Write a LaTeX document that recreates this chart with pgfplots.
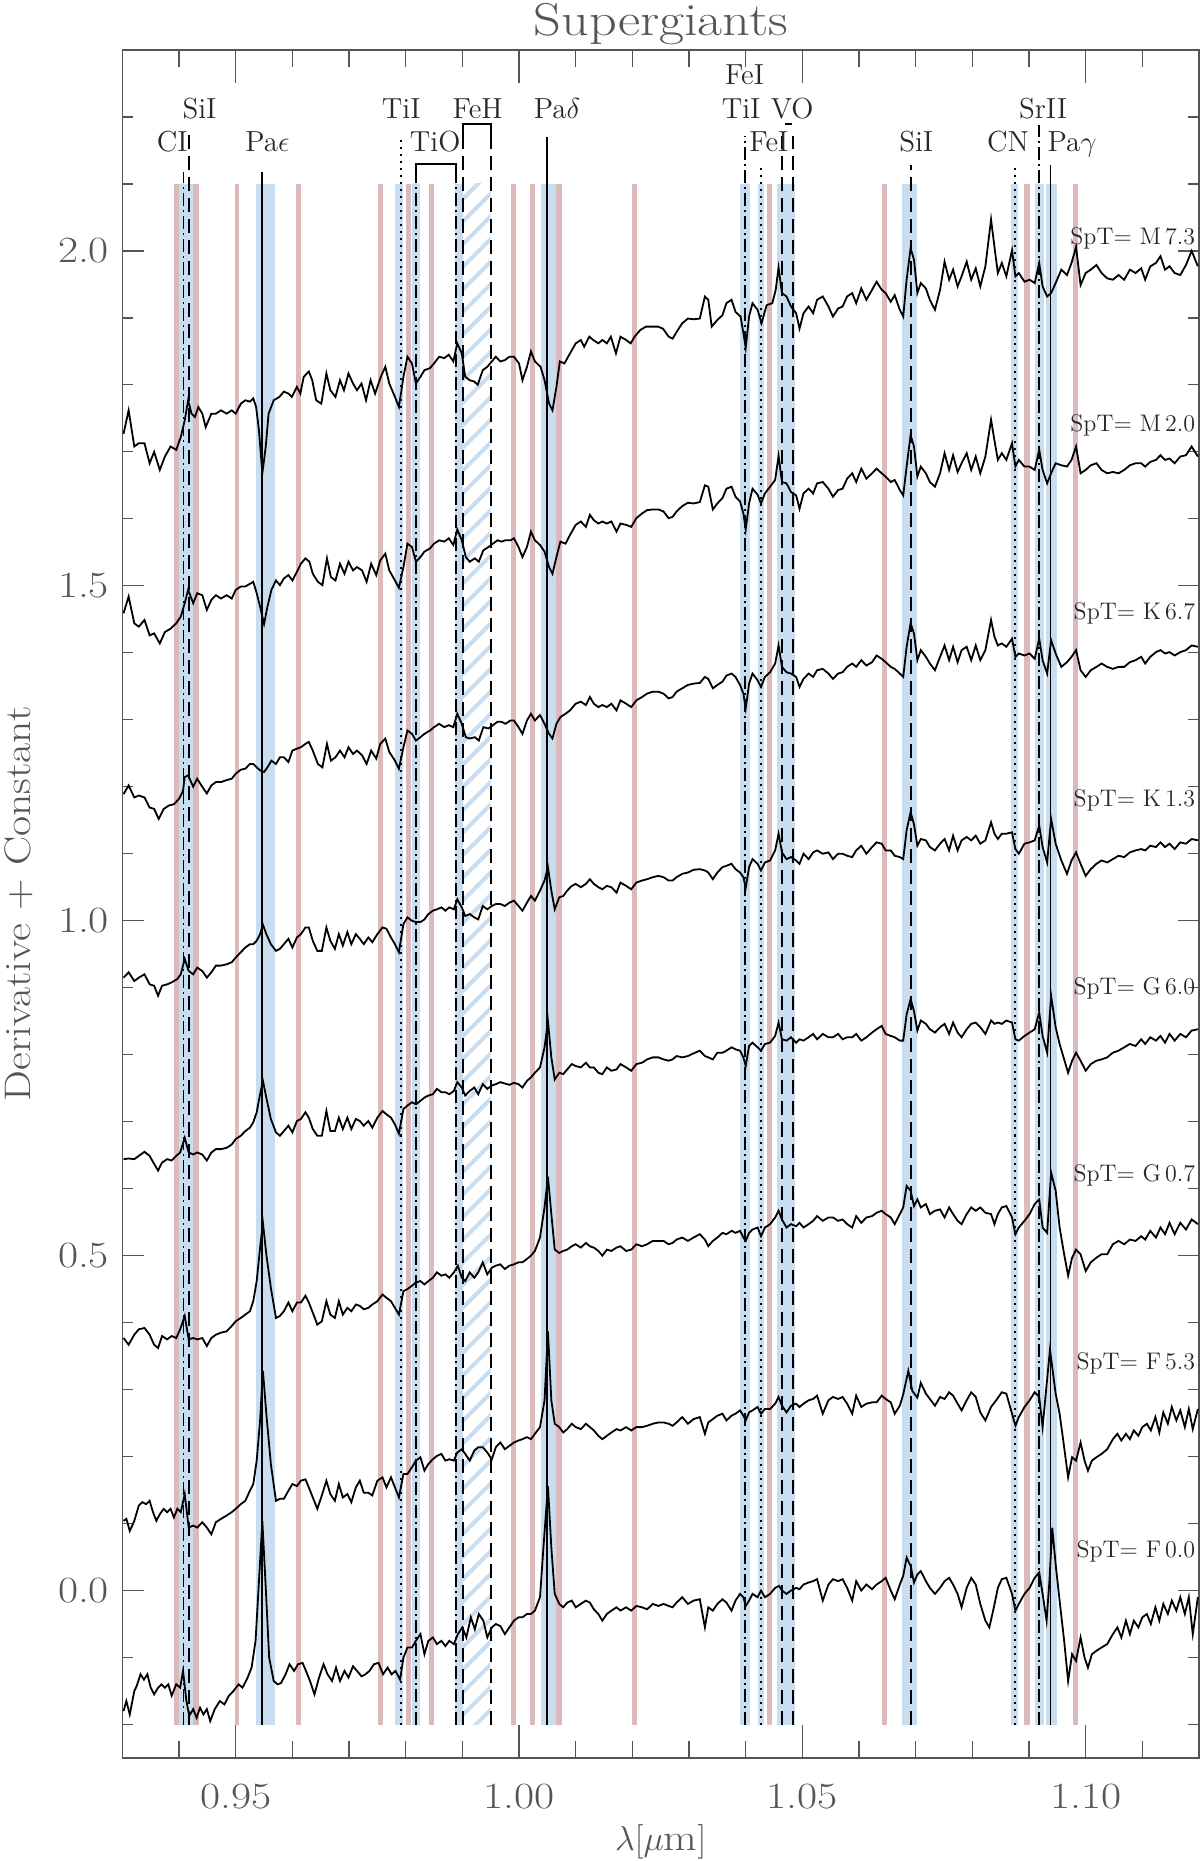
\documentclass[border=0pt]{standalone}
\usepackage{fontspec}
\usepackage{pgfplots}
\pgfplotsset{compat=1.18}
\usetikzlibrary{patterns.meta}
\newfontfamily\wideLM{lmroman17-regular.otf}[FakeStretch=1.18]
\definecolor{bred}{RGB}{220,186,187}
\definecolor{bblue}{RGB}{200,221,240}
\definecolor{axgray}{RGB}{85,85,85}
\definecolor{txt}{RGB}{40,40,40}
\newcommand{\rband}[2]{\addplot[fill=bred, draw=none] coordinates {(#1,-0.2) (#2,-0.2) (#2,2.1) (#1,2.1)} -- cycle;}
\newcommand{\bband}[2]{\addplot[fill=bblue, draw=none] coordinates {(#1,-0.2) (#2,-0.2) (#2,2.1) (#1,2.1)} -- cycle;}
\tikzset{
  lsolid/.style={black, line width=0.9pt},
  ldash/.style={black, line width=0.9pt, dash pattern=on 7pt off 3.5pt},
  ldashdot/.style={black, line width=0.9pt, dash pattern=on 6.5pt off 2pt on 1pt off 2pt},
  ldot/.style={black, line width=0.9pt, dash pattern=on 1pt off 2.5pt},
  lab/.style={anchor=base, text=txt, font=\fontsize{14.5}{16}\selectfont, inner sep=0pt},
  spt/.style={anchor=base east, text=txt, font=\fontsize{12}{14}\selectfont, inner sep=0pt},
}
\begin{document}
\begin{tikzpicture}
\path[use as bounding box] (-61.2pt,-51.5pt) rectangle (538.8pt,879pt);
\begin{axis}[
  at={(0,0)}, anchor=south west,
  width=538.3pt, height=854pt, scale only axis,
  xmin=0.93, xmax=1.12, ymin=-0.25, ymax=2.3,
  axis line style={axgray, line width=0.6pt},
  tick style={axgray, line width=0.6pt},
  tick align=inside,
  xtick={0.95,1.00,1.05,1.10},
  xticklabels={0.95,1.00,1.05,1.10},
  minor xtick={0.94,0.96,0.97,0.98,0.99,1.01,1.02,1.03,1.04,1.06,1.07,1.08,1.09,1.11},
  ytick={0,0.5,1.0,1.5,2.0},
  yticklabels={0.0,0.5,1.0,1.5,2.0},
  minor ytick={-0.2,-0.1,0.1,0.2,0.3,0.4,0.6,0.7,0.8,0.9,1.1,1.2,1.3,1.4,1.6,1.7,1.8,1.9,2.1,2.2},
  xtick style={/pgfplots/major tick length=16.7pt, /pgfplots/minor tick length=8.4pt},
  ytick style={/pgfplots/major tick length=10.7pt, /pgfplots/minor tick length=5.4pt},
  xticklabel style={font=\wideLM\fontsize{18.5}{20}\selectfont, text=axgray, anchor=base, yshift=-25pt, inner sep=0pt},
  yticklabel style={font=\wideLM\fontsize{18.5}{20}\selectfont, text=axgray, anchor=east, xshift=-6.5pt, inner sep=0pt},
]
% red bands
\rband{0.9391}{0.9400}
\rband{0.9425}{0.9435}
\rband{0.9499}{0.9505}
\rband{0.9606}{0.9615}
\rband{0.9751}{0.9760}
\rband{0.9800}{0.9809}
\rband{0.9841}{0.9850}
\rband{0.9985}{0.9994}
\rband{1.0020}{1.0029}
\rband{1.0066}{1.0075}
\rband{1.0200}{1.0209}
\rband{1.0438}{1.0447}
\rband{1.0640}{1.0649}
\rband{1.0892}{1.0902}
\rband{1.0978}{1.0987}
% blue bands
\bband{0.9400}{0.9425}
\bband{0.9535}{0.9570}
\bband{0.9781}{0.9796}
\bband{0.9811}{0.9826}
\bband{0.9887}{0.9901}
\bband{1.0038}{1.0066}
\bband{1.0390}{1.0407}
\bband{1.0422}{1.0433}
\bband{1.0456}{1.0487}
\bband{1.0676}{1.0702}
\bband{1.0869}{1.0881}
\bband{1.0910}{1.0927}
\bband{1.0930}{1.0949}
% hatched FeH band
\addplot[draw=none, pattern={Lines[angle=45,distance=8pt,line width=2pt]}, pattern color=bblue] coordinates {(0.9901,-0.2) (0.9950,-0.2) (0.9950,2.1) (0.9901,2.1)} -- cycle;
% line markers
\addplot[ldashdot] coordinates {(0.9408,-0.2) (0.9408,2.118)};
\addplot[ldash] coordinates {(0.9417,-0.2) (0.9417,2.175)};
\addplot[lsolid] coordinates {(0.9547,-0.2) (0.9547,2.118)};
\addplot[ldot] coordinates {(0.9791,-0.2) (0.9791,2.168)};
\addplot[ldashdot] coordinates {(0.9818,-0.2) (0.9818,2.110)};
\addplot[ldashdot] coordinates {(0.9889,-0.2) (0.9889,2.110)};
\addplot[lsolid] coordinates {(0.9818,2.110) (0.9818,2.130) (0.9889,2.130) (0.9889,2.110)};
\addplot[ldash] coordinates {(0.9901,-0.2) (0.9901,2.170)};
\addplot[ldash] coordinates {(0.9950,-0.2) (0.9950,2.170)};
\addplot[lsolid] coordinates {(0.9901,2.170) (0.9901,2.189) (0.9950,2.189) (0.9950,2.170)};
\addplot[lsolid] coordinates {(1.0049,-0.2) (1.0049,2.170)};
\addplot[ldashdot] coordinates {(1.0399,-0.2) (1.0399,2.172)};
\addplot[ldot] coordinates {(1.0427,-0.2) (1.0427,2.128)};
\addplot[ldash] coordinates {(1.0464,-0.2) (1.0464,2.172)};
\addplot[ldash] coordinates {(1.0483,-0.2) (1.0483,2.172)};
\addplot[lsolid] coordinates {(1.0469,2.189) (1.0481,2.189)};
\addplot[ldash] coordinates {(1.0692,-0.2) (1.0692,2.128)};
\addplot[ldot] coordinates {(1.0875,-0.2) (1.0875,2.128)};
\addplot[ldashdot] coordinates {(1.0918,-0.2) (1.0918,2.188)};
\addplot[lsolid] coordinates {(1.0938,-0.2) (1.0938,2.128)};
% spectra
% M7.3
\addplot[black, line width=0.9pt] coordinates {(0.9302,1.727) (0.9311,1.762) (0.9321,1.708) (0.9329,1.713) (0.9339,1.713) (0.9348,1.683) (0.9356,1.700) (0.9366,1.673) (0.9375,1.693) (0.9385,1.708) (0.9395,1.703) (0.9403,1.722) (0.9410,1.747) (0.9416,1.777) (0.9422,1.757) (0.9428,1.752) (0.9434,1.767) (0.9441,1.757) (0.9447,1.737) (0.9457,1.757) (0.9465,1.757) (0.9474,1.762) (0.9484,1.757) (0.9493,1.762) (0.9500,1.757) (0.9509,1.772) (0.9517,1.777) (0.9525,1.775) (0.9531,1.780) (0.9536,1.767) (0.9541,1.732) (0.9547,1.668) (0.9553,1.708) (0.9558,1.757) (0.9567,1.777) (0.9577,1.782) (0.9585,1.790) (0.9593,1.787) (0.9599,1.782) (0.9608,1.797) (0.9614,1.787) (0.9620,1.812) (0.9629,1.820) (0.9635,1.807) (0.9642,1.777) (0.9651,1.772) (0.9660,1.817) (0.9667,1.792) (0.9676,1.782) (0.9684,1.807) (0.9691,1.792) (0.9699,1.817) (0.9707,1.802) (0.9714,1.792) (0.9722,1.802) (0.9730,1.777) (0.9738,1.807) (0.9746,1.787) (0.9756,1.812) (0.9764,1.827) (0.9771,1.802) (0.9781,1.782) (0.9788,1.767) (0.9796,1.812) (0.9803,1.842) (0.9811,1.832) (0.9818,1.802) (0.9826,1.812) (0.9833,1.822) (0.9843,1.825) (0.9850,1.832) (0.9859,1.842) (0.9868,1.840) (0.9876,1.845) (0.9884,1.835) (0.9891,1.862) (0.9899,1.847) (0.9905,1.812) (0.9913,1.807) (0.9921,1.805) (0.9927,1.800) (0.9936,1.822) (0.9944,1.827) (0.9952,1.835) (0.9959,1.842) (0.9967,1.835) (0.9975,1.837) (0.9983,1.842) (0.9991,1.842) (1.0000,1.832) (1.0006,1.807) (1.0014,1.827) (1.0021,1.850) (1.0028,1.835) (1.0038,1.827) (1.0045,1.807) (1.0053,1.772) (1.0059,1.762) (1.0066,1.797) (1.0072,1.835) (1.0080,1.832) (1.0090,1.847) (1.0100,1.862) (1.0109,1.867) (1.0115,1.857) (1.0124,1.872) (1.0131,1.867) (1.0140,1.862) (1.0147,1.867) (1.0155,1.862) (1.0162,1.872) (1.0171,1.847) (1.0179,1.872) (1.0189,1.867) (1.0197,1.862) (1.0204,1.872) (1.0214,1.882) (1.0224,1.887) (1.0234,1.887) (1.0245,1.887) (1.0254,1.884) (1.0264,1.872) (1.0271,1.869) (1.0278,1.879) (1.0288,1.892) (1.0298,1.899) (1.0308,1.898) (1.0319,1.899) (1.0328,1.932) (1.0334,1.927) (1.0340,1.887) (1.0350,1.897) (1.0359,1.904) (1.0366,1.922) (1.0375,1.927) (1.0382,1.909) (1.0391,1.902) (1.0397,1.872) (1.0400,1.855) (1.0406,1.902) (1.0412,1.922) (1.0421,1.912) (1.0428,1.892) (1.0437,1.919) (1.0447,1.922) (1.0453,1.942) (1.0458,1.975) (1.0464,1.937) (1.0472,1.932) (1.0480,1.917) (1.0489,1.907) (1.0495,1.884) (1.0502,1.907) (1.0511,1.917) (1.0519,1.907) (1.0526,1.927) (1.0536,1.932) (1.0546,1.917) (1.0554,1.902) (1.0563,1.914) (1.0571,1.917) (1.0579,1.932) (1.0588,1.937) (1.0595,1.922) (1.0604,1.944) (1.0613,1.927) (1.0623,1.942) (1.0631,1.954) (1.0640,1.942) (1.0647,1.937) (1.0656,1.924) (1.0663,1.934) (1.0672,1.912) (1.0678,1.902) (1.0684,1.957) (1.0691,2.004) (1.0697,1.987) (1.0703,1.937) (1.0709,1.952) (1.0718,1.944) (1.0725,1.927) (1.0734,1.912) (1.0743,1.942) (1.0751,1.984) (1.0759,1.957) (1.0766,1.972) (1.0774,1.947) (1.0781,1.962) (1.0790,1.984) (1.0798,1.957) (1.0806,1.974) (1.0814,1.947) (1.0823,1.977) (1.0833,2.047) (1.0839,2.006) (1.0845,1.967) (1.0852,1.982) (1.0860,1.962) (1.0870,2.001) (1.0876,1.962) (1.0882,1.967) (1.0892,1.954) (1.0901,1.957) (1.0910,1.952) (1.0918,1.982) (1.0924,1.947) (1.0932,1.932) (1.0939,1.937) (1.0947,1.952) (1.0957,1.972) (1.0967,1.964) (1.0975,1.982) (1.0983,2.006) (1.0991,1.949) (1.1000,1.967) (1.1009,1.972) (1.1019,1.979) (1.1028,1.967) (1.1038,1.959) (1.1048,1.957) (1.1058,1.964) (1.1068,1.957) (1.1078,1.972) (1.1088,1.967) (1.1098,1.974) (1.1105,1.957) (1.1114,1.977) (1.1124,1.982) (1.1132,1.992) (1.1140,1.972) (1.1148,1.977) (1.1157,1.967) (1.1167,1.964) (1.1177,1.979) (1.1187,2.000) (1.1198,1.977)};
% M2.0
\addplot[black, line width=0.9pt] coordinates {(0.9302,1.459) (0.9311,1.484) (0.9321,1.444) (0.9329,1.439) (0.9339,1.449) (0.9348,1.426) (0.9356,1.429) (0.9366,1.414) (0.9375,1.431) (0.9385,1.436) (0.9395,1.444) (0.9403,1.454) (0.9410,1.474) (0.9416,1.494) (0.9425,1.474) (0.9432,1.489) (0.9441,1.486) (0.9449,1.464) (0.9457,1.479) (0.9465,1.486) (0.9474,1.481) (0.9484,1.486) (0.9493,1.481) (0.9500,1.494) (0.9509,1.499) (0.9517,1.499) (0.9525,1.503) (0.9531,1.506) (0.9537,1.489) (0.9543,1.469) (0.9550,1.443) (0.9556,1.469) (0.9563,1.494) (0.9571,1.508) (0.9578,1.501) (0.9585,1.511) (0.9593,1.516) (0.9600,1.508) (0.9608,1.521) (0.9615,1.533) (0.9623,1.541) (0.9630,1.536) (0.9636,1.518) (0.9645,1.506) (0.9653,1.501) (0.9661,1.541) (0.9668,1.513) (0.9676,1.508) (0.9684,1.533) (0.9692,1.518) (0.9699,1.536) (0.9707,1.523) (0.9714,1.528) (0.9723,1.523) (0.9731,1.506) (0.9739,1.533) (0.9748,1.516) (0.9755,1.538) (0.9764,1.548) (0.9771,1.523) (0.9781,1.508) (0.9788,1.497) (0.9796,1.528) (0.9803,1.563) (0.9811,1.558) (0.9818,1.536) (0.9826,1.543) (0.9833,1.551) (0.9843,1.556) (0.9850,1.563) (0.9859,1.568) (0.9868,1.566) (0.9876,1.571) (0.9884,1.561) (0.9891,1.584) (0.9899,1.568) (0.9906,1.543) (0.9913,1.536) (0.9922,1.541) (0.9929,1.536) (0.9937,1.553) (0.9946,1.558) (0.9954,1.563) (0.9962,1.568) (0.9969,1.566) (0.9976,1.568) (0.9985,1.568) (0.9991,1.571) (0.9999,1.558) (1.0006,1.543) (1.0014,1.558) (1.0021,1.581) (1.0028,1.568) (1.0037,1.561) (1.0045,1.551) (1.0053,1.528) (1.0059,1.518) (1.0066,1.543) (1.0073,1.566) (1.0082,1.563) (1.0090,1.576) (1.0100,1.591) (1.0109,1.596) (1.0118,1.588) (1.0125,1.606) (1.0132,1.598) (1.0140,1.593) (1.0147,1.596) (1.0155,1.593) (1.0163,1.596) (1.0172,1.581) (1.0179,1.593) (1.0189,1.591) (1.0198,1.588) (1.0207,1.601) (1.0217,1.608) (1.0226,1.613) (1.0236,1.614) (1.0246,1.614) (1.0255,1.611) (1.0264,1.601) (1.0271,1.603) (1.0278,1.611) (1.0288,1.619) (1.0298,1.624) (1.0308,1.623) (1.0319,1.625) (1.0328,1.650) (1.0334,1.648) (1.0342,1.614) (1.0350,1.623) (1.0359,1.631) (1.0366,1.645) (1.0375,1.648) (1.0382,1.633) (1.0390,1.626) (1.0396,1.608) (1.0400,1.584) (1.0406,1.623) (1.0412,1.645) (1.0421,1.636) (1.0427,1.623) (1.0434,1.638) (1.0443,1.648) (1.0452,1.658) (1.0458,1.694) (1.0464,1.655) (1.0472,1.653) (1.0480,1.640) (1.0489,1.635) (1.0495,1.615) (1.0502,1.638) (1.0511,1.645) (1.0519,1.638) (1.0526,1.653) (1.0536,1.655) (1.0546,1.645) (1.0554,1.633) (1.0563,1.643) (1.0571,1.645) (1.0579,1.660) (1.0588,1.668) (1.0595,1.655) (1.0604,1.675) (1.0613,1.660) (1.0623,1.668) (1.0631,1.675) (1.0640,1.668) (1.0647,1.663) (1.0656,1.655) (1.0663,1.658) (1.0672,1.643) (1.0678,1.635) (1.0684,1.678) (1.0691,1.725) (1.0697,1.708) (1.0703,1.663) (1.0709,1.678) (1.0718,1.668) (1.0725,1.655) (1.0734,1.648) (1.0743,1.668) (1.0751,1.698) (1.0759,1.673) (1.0766,1.695) (1.0774,1.670) (1.0781,1.683) (1.0790,1.698) (1.0798,1.673) (1.0806,1.693) (1.0814,1.668) (1.0823,1.693) (1.0833,1.748) (1.0839,1.717) (1.0845,1.688) (1.0852,1.698) (1.0860,1.688) (1.0870,1.713) (1.0876,1.678) (1.0882,1.688) (1.0892,1.678) (1.0901,1.678) (1.0910,1.673) (1.0918,1.703) (1.0924,1.673) (1.0932,1.653) (1.0939,1.668) (1.0947,1.683) (1.0957,1.680) (1.0967,1.678) (1.0975,1.688) (1.0983,1.708) (1.0991,1.668) (1.1000,1.673) (1.1009,1.680) (1.1019,1.683) (1.1028,1.673) (1.1038,1.668) (1.1048,1.670) (1.1058,1.668) (1.1068,1.673) (1.1078,1.680) (1.1088,1.683) (1.1098,1.683) (1.1105,1.678) (1.1114,1.685) (1.1124,1.688) (1.1132,1.695) (1.1140,1.688) (1.1148,1.690) (1.1157,1.683) (1.1167,1.693) (1.1177,1.695) (1.1187,1.708) (1.1198,1.693)};
% K6.7
\addplot[black, line width=0.9pt] coordinates {(0.9302,1.189) (0.9311,1.202) (0.9321,1.184) (0.9329,1.187) (0.9339,1.184) (0.9348,1.169) (0.9356,1.167) (0.9364,1.152) (0.9373,1.167) (0.9382,1.172) (0.9391,1.174) (0.9400,1.182) (0.9407,1.194) (0.9410,1.2145) (0.9416,1.217) (0.9425,1.200) (0.9432,1.212) (0.9441,1.200) (0.9449,1.190) (0.9457,1.202) (0.9465,1.207) (0.9474,1.207) (0.9484,1.210) (0.9493,1.212) (0.9500,1.2195) (0.9509,1.2255) (0.9517,1.227) (0.9525,1.234) (0.9531,1.234) (0.9537,1.229) (0.9543,1.2245) (0.9550,1.222) (0.9556,1.229) (0.9563,1.239) (0.9571,1.234) (0.9578,1.244) (0.9585,1.244) (0.9593,1.237) (0.9600,1.254) (0.9608,1.257) (0.9615,1.259) (0.9623,1.264) (0.9629,1.267) (0.9636,1.254) (0.9645,1.234) (0.9653,1.229) (0.9661,1.264) (0.9668,1.239) (0.9676,1.244) (0.9684,1.254) (0.9692,1.244) (0.9699,1.259) (0.9707,1.249) (0.9714,1.254) (0.9723,1.247) (0.9731,1.234) (0.9739,1.254) (0.9748,1.242) (0.9755,1.264) (0.9764,1.272) (0.9771,1.252) (0.9781,1.239) (0.9788,1.227) (0.9796,1.259) (0.9803,1.284) (0.9811,1.279) (0.9818,1.269) (0.9826,1.274) (0.9833,1.279) (0.9843,1.284) (0.9850,1.289) (0.9859,1.294) (0.9868,1.289) (0.9876,1.292) (0.9884,1.289) (0.9891,1.309) (0.9899,1.294) (0.9906,1.274) (0.9913,1.272) (0.9922,1.274) (0.9929,1.269) (0.9937,1.289) (0.9946,1.287) (0.9954,1.292) (0.9962,1.297) (0.9969,1.297) (0.9976,1.294) (0.9985,1.299) (0.9991,1.299) (0.9999,1.289) (1.0006,1.279) (1.0014,1.299) (1.0021,1.309) (1.0028,1.299) (1.0037,1.307) (1.0045,1.294) (1.0053,1.279) (1.0059,1.272) (1.0066,1.294) (1.0073,1.304) (1.0082,1.309) (1.0090,1.314) (1.0100,1.324) (1.0109,1.327) (1.0118,1.322) (1.0125,1.334) (1.0132,1.324) (1.0140,1.319) (1.0147,1.322) (1.0155,1.319) (1.0163,1.324) (1.0172,1.314) (1.0179,1.329) (1.0189,1.324) (1.0198,1.319) (1.0207,1.329) (1.0217,1.334) (1.0226,1.339) (1.0236,1.342) (1.0246,1.342) (1.0255,1.339) (1.0264,1.332) (1.0271,1.334) (1.0278,1.342) (1.0288,1.347) (1.0298,1.352) (1.0308,1.354) (1.0319,1.355) (1.0328,1.364) (1.0334,1.361) (1.0342,1.347) (1.0350,1.352) (1.0359,1.357) (1.0366,1.366) (1.0375,1.369) (1.0382,1.364) (1.0390,1.352) (1.0396,1.339) (1.0400,1.317) (1.0406,1.354) (1.0412,1.369) (1.0421,1.359) (1.0427,1.349) (1.0434,1.364) (1.0443,1.371) (1.0452,1.384) (1.0458,1.411) (1.0464,1.379) (1.0472,1.371) (1.0480,1.369) (1.0489,1.364) (1.0495,1.349) (1.0502,1.361) (1.0511,1.369) (1.0519,1.364) (1.0526,1.374) (1.0536,1.376) (1.0546,1.369) (1.0554,1.361) (1.0563,1.369) (1.0571,1.371) (1.0579,1.379) (1.0588,1.384) (1.0595,1.379) (1.0604,1.389) (1.0613,1.381) (1.0623,1.386) (1.0631,1.396) (1.0640,1.391) (1.0647,1.386) (1.0656,1.379) (1.0663,1.376) (1.0672,1.369) (1.0678,1.364) (1.0684,1.409) (1.0691,1.444) (1.0697,1.429) (1.0703,1.389) (1.0709,1.404) (1.0718,1.394) (1.0725,1.384) (1.0734,1.374) (1.0743,1.394) (1.0751,1.411) (1.0759,1.389) (1.0766,1.409) (1.0774,1.386) (1.0781,1.404) (1.0790,1.409) (1.0798,1.389) (1.0806,1.411) (1.0814,1.389) (1.0823,1.404) (1.0833,1.449) (1.0839,1.424) (1.0845,1.411) (1.0852,1.414) (1.0860,1.409) (1.0870,1.421) (1.0876,1.394) (1.0882,1.399) (1.0892,1.396) (1.0901,1.399) (1.0910,1.391) (1.0918,1.421) (1.0924,1.389) (1.0932,1.369) (1.0939,1.419) (1.0947,1.399) (1.0957,1.379) (1.0967,1.386) (1.0975,1.394) (1.0983,1.404) (1.0991,1.374) (1.1000,1.364) (1.1009,1.374) (1.1019,1.379) (1.1028,1.384) (1.1038,1.379) (1.1048,1.376) (1.1058,1.379) (1.1068,1.379) (1.1078,1.386) (1.1088,1.389) (1.1098,1.394) (1.1105,1.384) (1.1114,1.394) (1.1124,1.401) (1.1132,1.404) (1.1140,1.399) (1.1148,1.401) (1.1157,1.396) (1.1167,1.401) (1.1177,1.404) (1.1187,1.411) (1.1198,1.409)};
% K1.3
\addplot[black, line width=0.9pt] coordinates {(0.9302,0.915) (0.9311,0.923) (0.9321,0.910) (0.9329,0.915) (0.9339,0.920) (0.9348,0.905) (0.9356,0.903) (0.9363,0.888) (0.9370,0.903) (0.9379,0.905) (0.9387,0.908) (0.9397,0.913) (0.9403,0.920) (0.9410,0.943) (0.9417,0.925) (0.9425,0.920) (0.9432,0.930) (0.9441,0.925) (0.9449,0.915) (0.9457,0.923) (0.9465,0.933) (0.9474,0.933) (0.9484,0.935) (0.9493,0.938) (0.9500,0.945) (0.9509,0.953) (0.9517,0.960) (0.9525,0.965) (0.9531,0.965) (0.9537,0.970) (0.9543,0.980) (0.9548,0.994) (0.9554,0.980) (0.9562,0.965) (0.9571,0.955) (0.9578,0.958) (0.9585,0.965) (0.9593,0.973) (0.9600,0.960) (0.9608,0.975) (0.9615,0.980) (0.9623,0.990) (0.9629,0.990) (0.9636,0.970) (0.9644,0.955) (0.9652,0.955) (0.9660,0.990) (0.9667,0.970) (0.9675,0.958) (0.9682,0.980) (0.9689,0.963) (0.9697,0.983) (0.9704,0.965) (0.9712,0.980) (0.9719,0.973) (0.9726,0.965) (0.9734,0.975) (0.9741,0.968) (0.9750,0.980) (0.9759,0.990) (0.9766,0.988) (0.9774,0.975) (0.9781,0.965) (0.9788,0.953) (0.9796,0.995) (0.9803,1.005) (0.9811,1.000) (0.9818,0.998) (0.9826,0.998) (0.9833,1.002) (0.9840,1.010) (0.9848,1.015) (0.9855,1.017) (0.9863,1.020) (0.9870,1.015) (0.9877,1.020) (0.9885,1.017) (0.9891,1.032) (0.9899,1.020) (0.9905,1.007) (0.9913,1.010) (0.9921,1.005) (0.9928,1.002) (0.9936,1.022) (0.9944,1.017) (0.9952,1.022) (0.9959,1.025) (0.9967,1.025) (0.9975,1.022) (0.9983,1.027) (0.9991,1.030) (0.9999,1.022) (1.0006,1.015) (1.0014,1.027) (1.0021,1.037) (1.0028,1.030) (1.0037,1.045) (1.0045,1.060) (1.0051,1.080) (1.0057,1.045) (1.0063,1.017) (1.0071,1.035) (1.0078,1.037) (1.0085,1.045) (1.0093,1.052) (1.0100,1.055) (1.0109,1.050) (1.0118,1.055) (1.0125,1.062) (1.0132,1.055) (1.0140,1.050) (1.0147,1.047) (1.0155,1.052) (1.0163,1.050) (1.0172,1.042) (1.0179,1.057) (1.0189,1.052) (1.0198,1.047) (1.0207,1.057) (1.0217,1.060) (1.0226,1.062) (1.0236,1.065) (1.0246,1.067) (1.0255,1.065) (1.0264,1.060) (1.0271,1.060) (1.0278,1.065) (1.0288,1.070) (1.0298,1.072) (1.0308,1.076) (1.0319,1.077) (1.0328,1.075) (1.0334,1.072) (1.0342,1.062) (1.0350,1.072) (1.0359,1.080) (1.0366,1.082) (1.0375,1.085) (1.0382,1.077) (1.0390,1.072) (1.0396,1.065) (1.0400,1.049) (1.0406,1.080) (1.0412,1.092) (1.0421,1.085) (1.0427,1.075) (1.0434,1.087) (1.0443,1.090) (1.0452,1.105) (1.0458,1.130) (1.0464,1.102) (1.0472,1.092) (1.0480,1.095) (1.0489,1.090) (1.0495,1.085) (1.0502,1.100) (1.0511,1.092) (1.0519,1.102) (1.0526,1.105) (1.0536,1.100) (1.0546,1.102) (1.0554,1.092) (1.0563,1.100) (1.0571,1.100) (1.0579,1.097) (1.0588,1.095) (1.0595,1.105) (1.0604,1.112) (1.0613,1.100) (1.0623,1.110) (1.0631,1.117) (1.0640,1.115) (1.0647,1.105) (1.0656,1.105) (1.0663,1.097) (1.0672,1.095) (1.0678,1.092) (1.0684,1.135) (1.0691,1.162) (1.0697,1.144) (1.0703,1.112) (1.0709,1.122) (1.0718,1.120) (1.0725,1.110) (1.0734,1.105) (1.0743,1.115) (1.0751,1.122) (1.0759,1.105) (1.0766,1.127) (1.0774,1.105) (1.0781,1.120) (1.0790,1.125) (1.0798,1.120) (1.0806,1.127) (1.0814,1.115) (1.0823,1.120) (1.0833,1.147) (1.0839,1.130) (1.0845,1.122) (1.0852,1.130) (1.0860,1.130) (1.0870,1.132) (1.0876,1.107) (1.0882,1.100) (1.0892,1.115) (1.0901,1.117) (1.0910,1.120) (1.0918,1.142) (1.0924,1.110) (1.0932,1.087) (1.0939,1.152) (1.0947,1.115) (1.0957,1.090) (1.0967,1.070) (1.0975,1.090) (1.0983,1.102) (1.0991,1.085) (1.1000,1.067) (1.1009,1.077) (1.1019,1.085) (1.1028,1.090) (1.1038,1.087) (1.1048,1.092) (1.1058,1.097) (1.1068,1.095) (1.1078,1.102) (1.1088,1.105) (1.1098,1.107) (1.1105,1.105) (1.1114,1.112) (1.1124,1.110) (1.1132,1.117) (1.1140,1.110) (1.1148,1.115) (1.1157,1.107) (1.1167,1.117) (1.1177,1.115) (1.1187,1.122) (1.1198,1.120)};
% G6.0
\addplot[black, line width=0.9pt] coordinates {(0.9302,0.644) (0.9311,0.645) (0.9321,0.644) (0.9329,0.649) (0.9339,0.655) (0.9348,0.649) (0.9356,0.637) (0.9363,0.627) (0.9370,0.639) (0.9379,0.644) (0.9387,0.642) (0.9395,0.649) (0.9402,0.654) (0.9410,0.676) (0.9417,0.654) (0.9425,0.651) (0.9432,0.654) (0.9441,0.651) (0.9449,0.642) (0.9457,0.654) (0.9465,0.659) (0.9474,0.659) (0.9484,0.661) (0.9493,0.666) (0.9500,0.674) (0.9509,0.679) (0.9517,0.686) (0.9525,0.691) (0.9531,0.699) (0.9537,0.714) (0.9543,0.741) (0.9548,0.761) (0.9554,0.736) (0.9562,0.704) (0.9571,0.684) (0.9578,0.679) (0.9585,0.686) (0.9593,0.694) (0.9600,0.684) (0.9608,0.701) (0.9615,0.704) (0.9623,0.714) (0.9629,0.706) (0.9636,0.689) (0.9644,0.679) (0.9652,0.679) (0.9660,0.716) (0.9667,0.686) (0.9675,0.686) (0.9682,0.706) (0.9689,0.689) (0.9697,0.706) (0.9704,0.689) (0.9712,0.704) (0.9719,0.701) (0.9726,0.694) (0.9734,0.701) (0.9741,0.691) (0.9750,0.706) (0.9759,0.716) (0.9766,0.711) (0.9774,0.706) (0.9781,0.696) (0.9788,0.682) (0.9796,0.719) (0.9803,0.724) (0.9811,0.729) (0.9818,0.726) (0.9826,0.731) (0.9833,0.736) (0.9840,0.739) (0.9848,0.741) (0.9855,0.749) (0.9863,0.744) (0.9870,0.744) (0.9877,0.741) (0.9885,0.746) (0.9891,0.759) (0.9899,0.751) (0.9905,0.739) (0.9913,0.746) (0.9921,0.751) (0.9928,0.741) (0.9936,0.756) (0.9944,0.749) (0.9952,0.754) (0.9959,0.756) (0.9967,0.759) (0.9975,0.757) (0.9983,0.755) (0.9991,0.758) (0.9999,0.756) (1.0006,0.751) (1.0014,0.761) (1.0021,0.766) (1.0028,0.773) (1.0037,0.781) (1.0045,0.811) (1.0051,0.850) (1.0057,0.796) (1.0063,0.763) (1.0071,0.773) (1.0078,0.771) (1.0085,0.778) (1.0093,0.786) (1.0100,0.783) (1.0109,0.781) (1.0118,0.788) (1.0125,0.781) (1.0132,0.781) (1.0140,0.773) (1.0147,0.771) (1.0155,0.781) (1.0163,0.776) (1.0172,0.778) (1.0179,0.786) (1.0189,0.781) (1.0198,0.776) (1.0207,0.786) (1.0217,0.788) (1.0226,0.793) (1.0236,0.796) (1.0246,0.796) (1.0255,0.793) (1.0264,0.791) (1.0271,0.793) (1.0278,0.798) (1.0288,0.796) (1.0298,0.798) (1.0308,0.802) (1.0319,0.806) (1.0328,0.798) (1.0334,0.796) (1.0342,0.793) (1.0350,0.803) (1.0359,0.803) (1.0366,0.806) (1.0375,0.811) (1.0382,0.808) (1.0390,0.806) (1.0396,0.796) (1.0400,0.783) (1.0406,0.813) (1.0412,0.818) (1.0421,0.811) (1.0427,0.806) (1.0434,0.816) (1.0443,0.818) (1.0452,0.828) (1.0458,0.848) (1.0464,0.823) (1.0472,0.821) (1.0480,0.826) (1.0489,0.818) (1.0495,0.823) (1.0502,0.821) (1.0511,0.826) (1.0519,0.831) (1.0526,0.823) (1.0536,0.831) (1.0546,0.826) (1.0554,0.826) (1.0563,0.831) (1.0571,0.823) (1.0579,0.826) (1.0588,0.826) (1.0595,0.831) (1.0604,0.821) (1.0613,0.826) (1.0623,0.833) (1.0631,0.838) (1.0640,0.843) (1.0647,0.831) (1.0656,0.828) (1.0663,0.826) (1.0672,0.821) (1.0678,0.821) (1.0684,0.860) (1.0691,0.883) (1.0697,0.865) (1.0703,0.836) (1.0709,0.851) (1.0718,0.846) (1.0725,0.838) (1.0734,0.833) (1.0743,0.841) (1.0751,0.846) (1.0759,0.831) (1.0766,0.848) (1.0774,0.833) (1.0781,0.826) (1.0790,0.838) (1.0798,0.846) (1.0806,0.848) (1.0814,0.841) (1.0823,0.831) (1.0833,0.851) (1.0839,0.846) (1.0845,0.848) (1.0852,0.846) (1.0860,0.851) (1.0870,0.848) (1.0876,0.823) (1.0882,0.821) (1.0892,0.828) (1.0901,0.833) (1.0910,0.838) (1.0918,0.863) (1.0924,0.828) (1.0932,0.803) (1.0939,0.888) (1.0947,0.841) (1.0954,0.816) (1.0962,0.793) (1.0969,0.773) (1.0976,0.791) (1.0983,0.803) (1.0991,0.791) (1.1000,0.776) (1.1009,0.786) (1.1019,0.791) (1.1028,0.793) (1.1038,0.796) (1.1048,0.803) (1.1058,0.806) (1.1068,0.811) (1.1078,0.816) (1.1088,0.813) (1.1098,0.823) (1.1105,0.816) (1.1114,0.826) (1.1124,0.821) (1.1132,0.828) (1.1140,0.818) (1.1148,0.831) (1.1157,0.821) (1.1167,0.831) (1.1177,0.826) (1.1187,0.836) (1.1198,0.838)};
% G0.7
\addplot[black, line width=0.9pt] coordinates {(0.9302,0.377) (0.9311,0.367) (0.9321,0.382) (0.9329,0.390) (0.9339,0.392) (0.9348,0.382) (0.9356,0.367) (0.9363,0.362) (0.9370,0.380) (0.9379,0.375) (0.9387,0.380) (0.9395,0.377) (0.9402,0.390) (0.9410,0.410) (0.9417,0.375) (0.9425,0.377) (0.9432,0.375) (0.9441,0.377) (0.9449,0.365) (0.9457,0.377) (0.9465,0.382) (0.9474,0.385) (0.9484,0.387) (0.9493,0.395) (0.9500,0.402) (0.9509,0.407) (0.9517,0.412) (0.9525,0.417) (0.9531,0.432) (0.9537,0.462) (0.9543,0.512) (0.9548,0.549) (0.9554,0.502) (0.9562,0.452) (0.9571,0.407) (0.9578,0.410) (0.9585,0.417) (0.9593,0.430) (0.9600,0.417) (0.9608,0.430) (0.9615,0.430) (0.9623,0.440) (0.9629,0.430) (0.9636,0.415) (0.9644,0.397) (0.9652,0.402) (0.9660,0.432) (0.9667,0.412) (0.9675,0.407) (0.9682,0.432) (0.9689,0.412) (0.9697,0.422) (0.9704,0.417) (0.9712,0.427) (0.9719,0.425) (0.9726,0.420) (0.9734,0.422) (0.9741,0.427) (0.9750,0.432) (0.9759,0.442) (0.9766,0.437) (0.9774,0.432) (0.9781,0.422) (0.9788,0.412) (0.9796,0.447) (0.9803,0.450) (0.9811,0.455) (0.9818,0.460) (0.9826,0.462) (0.9833,0.457) (0.9840,0.462) (0.9848,0.467) (0.9855,0.475) (0.9863,0.470) (0.9870,0.472) (0.9877,0.467) (0.9885,0.475) (0.9892,0.485) (0.9899,0.467) (0.9905,0.462) (0.9913,0.475) (0.9921,0.467) (0.9928,0.475) (0.9936,0.490) (0.9944,0.472) (0.9952,0.482) (0.9959,0.485) (0.9967,0.487) (0.9975,0.480) (0.9983,0.485) (0.9991,0.487) (0.9999,0.490) (1.0006,0.490) (1.0014,0.495) (1.0021,0.500) (1.0028,0.507) (1.0037,0.527) (1.0045,0.572) (1.0051,0.618) (1.0057,0.562) (1.0063,0.509) (1.0071,0.504) (1.0078,0.507) (1.0085,0.509) (1.0093,0.514) (1.0100,0.517) (1.0109,0.512) (1.0118,0.519) (1.0125,0.514) (1.0132,0.512) (1.0140,0.507) (1.0147,0.500) (1.0155,0.509) (1.0163,0.507) (1.0172,0.512) (1.0179,0.514) (1.0189,0.507) (1.0198,0.509) (1.0207,0.517) (1.0217,0.514) (1.0226,0.517) (1.0236,0.522) (1.0246,0.522) (1.0255,0.522) (1.0264,0.517) (1.0271,0.519) (1.0278,0.524) (1.0288,0.527) (1.0298,0.522) (1.0308,0.527) (1.0319,0.532) (1.0328,0.524) (1.0334,0.514) (1.0342,0.522) (1.0350,0.527) (1.0359,0.534) (1.0366,0.532) (1.0375,0.537) (1.0382,0.534) (1.0390,0.537) (1.0396,0.527) (1.0400,0.522) (1.0406,0.534) (1.0412,0.539) (1.0421,0.542) (1.0427,0.529) (1.0434,0.542) (1.0443,0.547) (1.0452,0.557) (1.0458,0.567) (1.0464,0.554) (1.0472,0.542) (1.0480,0.547) (1.0489,0.544) (1.0495,0.549) (1.0502,0.542) (1.0511,0.547) (1.0519,0.552) (1.0526,0.559) (1.0536,0.552) (1.0546,0.557) (1.0554,0.557) (1.0563,0.552) (1.0571,0.554) (1.0579,0.547) (1.0588,0.542) (1.0595,0.559) (1.0604,0.549) (1.0613,0.557) (1.0623,0.559) (1.0631,0.564) (1.0640,0.567) (1.0647,0.562) (1.0656,0.557) (1.0663,0.547) (1.0672,0.562) (1.0678,0.572) (1.0684,0.604) (1.0691,0.597) (1.0697,0.574) (1.0703,0.584) (1.0709,0.572) (1.0718,0.577) (1.0725,0.562) (1.0734,0.567) (1.0743,0.569) (1.0751,0.557) (1.0759,0.572) (1.0766,0.562) (1.0774,0.552) (1.0781,0.547) (1.0790,0.562) (1.0798,0.572) (1.0806,0.567) (1.0814,0.572) (1.0823,0.564) (1.0833,0.562) (1.0839,0.547) (1.0845,0.562) (1.0852,0.572) (1.0860,0.574) (1.0870,0.557) (1.0876,0.532) (1.0882,0.542) (1.0892,0.552) (1.0901,0.562) (1.0910,0.577) (1.0918,0.584) (1.0924,0.542) (1.0932,0.534) (1.0939,0.624) (1.0947,0.597) (1.0954,0.542) (1.0962,0.502) (1.0969,0.470) (1.0976,0.497) (1.0983,0.509) (1.0991,0.502) (1.1000,0.477) (1.1009,0.490) (1.1019,0.497) (1.1028,0.502) (1.1038,0.502) (1.1048,0.517) (1.1058,0.522) (1.1068,0.517) (1.1078,0.524) (1.1088,0.522) (1.1098,0.529) (1.1105,0.524) (1.1114,0.537) (1.1124,0.527) (1.1132,0.542) (1.1140,0.532) (1.1148,0.549) (1.1157,0.532) (1.1167,0.549) (1.1177,0.539) (1.1187,0.554) (1.1198,0.547)};
% F5.3
\addplot[black, line width=0.9pt] coordinates {(0.9302,0.104) (0.9307,0.107) (0.9313,0.089) (0.9321,0.104) (0.9329,0.127) (0.9335,0.132) (0.9342,0.129) (0.9348,0.134) (0.9354,0.117) (0.9360,0.104) (0.9366,0.114) (0.9373,0.122) (0.9379,0.117) (0.9385,0.122) (0.9391,0.109) (0.9397,0.122) (0.9403,0.117) (0.9410,0.144) (0.9417,0.094) (0.9425,0.097) (0.9432,0.094) (0.9441,0.102) (0.9449,0.094) (0.9457,0.084) (0.9465,0.102) (0.9474,0.107) (0.9484,0.112) (0.9493,0.117) (0.9500,0.122) (0.9509,0.129) (0.9517,0.134) (0.9525,0.149) (0.9531,0.159) (0.9537,0.194) (0.9543,0.254) (0.9548,0.328) (0.9554,0.264) (0.9562,0.189) (0.9571,0.134) (0.9578,0.137) (0.9585,0.137) (0.9593,0.149) (0.9600,0.159) (0.9608,0.156) (0.9615,0.164) (0.9623,0.166) (0.9629,0.154) (0.9636,0.139) (0.9644,0.122) (0.9652,0.142) (0.9660,0.164) (0.9667,0.144) (0.9675,0.134) (0.9682,0.159) (0.9689,0.139) (0.9697,0.144) (0.9704,0.132) (0.9712,0.154) (0.9719,0.164) (0.9726,0.146) (0.9734,0.146) (0.9741,0.142) (0.9750,0.164) (0.9759,0.169) (0.9766,0.154) (0.9774,0.169) (0.9781,0.154) (0.9788,0.139) (0.9796,0.174) (0.9803,0.174) (0.9811,0.184) (0.9818,0.194) (0.9826,0.199) (0.9833,0.179) (0.9840,0.189) (0.9848,0.196) (0.9855,0.201) (0.9863,0.204) (0.9870,0.194) (0.9877,0.196) (0.9885,0.194) (0.9891,0.206) (0.9899,0.211) (0.9905,0.204) (0.9913,0.194) (0.9921,0.209) (0.9928,0.214) (0.9936,0.214) (0.9944,0.206) (0.9952,0.196) (0.9959,0.214) (0.9967,0.221) (0.9975,0.211) (0.9983,0.216) (0.9991,0.221) (0.9999,0.224) (1.0006,0.226) (1.0014,0.229) (1.0021,0.226) (1.0028,0.234) (1.0037,0.244) (1.0045,0.284) (1.0051,0.387) (1.0057,0.284) (1.0063,0.249) (1.0071,0.244) (1.0078,0.236) (1.0085,0.241) (1.0093,0.249) (1.0100,0.244) (1.0109,0.241) (1.0118,0.249) (1.0125,0.244) (1.0132,0.239) (1.0140,0.231) (1.0147,0.226) (1.0155,0.231) (1.0163,0.236) (1.0172,0.241) (1.0179,0.239) (1.0189,0.244) (1.0198,0.239) (1.0207,0.244) (1.0217,0.244) (1.0226,0.246) (1.0236,0.249) (1.0246,0.251) (1.0255,0.251) (1.0264,0.249) (1.0271,0.246) (1.0278,0.251) (1.0288,0.259) (1.0298,0.249) (1.0308,0.256) (1.0319,0.259) (1.0328,0.234) (1.0334,0.251) (1.0342,0.256) (1.0350,0.261) (1.0359,0.264) (1.0366,0.254) (1.0375,0.261) (1.0382,0.264) (1.0390,0.269) (1.0396,0.261) (1.0400,0.254) (1.0406,0.266) (1.0412,0.269) (1.0421,0.274) (1.0427,0.264) (1.0434,0.271) (1.0443,0.271) (1.0452,0.279) (1.0458,0.289) (1.0464,0.276) (1.0472,0.266) (1.0480,0.276) (1.0489,0.279) (1.0495,0.274) (1.0502,0.279) (1.0511,0.284) (1.0519,0.286) (1.0526,0.291) (1.0536,0.264) (1.0546,0.284) (1.0554,0.289) (1.0563,0.286) (1.0571,0.289) (1.0579,0.279) (1.0588,0.264) (1.0595,0.291) (1.0604,0.274) (1.0613,0.279) (1.0623,0.281) (1.0631,0.281) (1.0640,0.291) (1.0647,0.286) (1.0656,0.281) (1.0663,0.264) (1.0672,0.276) (1.0678,0.293) (1.0687,0.328) (1.0694,0.298) (1.0703,0.288) (1.0709,0.310) (1.0718,0.294) (1.0725,0.286) (1.0734,0.276) (1.0743,0.289) (1.0751,0.286) (1.0759,0.296) (1.0766,0.291) (1.0774,0.279) (1.0781,0.269) (1.0790,0.284) (1.0798,0.296) (1.0806,0.289) (1.0814,0.266) (1.0823,0.254) (1.0833,0.274) (1.0842,0.284) (1.0852,0.296) (1.0860,0.294) (1.0870,0.264) (1.0876,0.246) (1.0882,0.259) (1.0892,0.274) (1.0901,0.284) (1.0910,0.296) (1.0918,0.289) (1.0924,0.244) (1.0929,0.289) (1.0937,0.360) (1.0947,0.294) (1.0954,0.264) (1.0962,0.214) (1.0969,0.169) (1.0976,0.199) (1.0983,0.194) (1.0991,0.221) (1.0998,0.194) (1.1004,0.179) (1.1011,0.194) (1.1019,0.199) (1.1028,0.204) (1.1038,0.211) (1.1048,0.226) (1.1056,0.234) (1.1063,0.224) (1.1071,0.234) (1.1078,0.226) (1.1085,0.239) (1.1093,0.231) (1.1100,0.244) (1.1108,0.249) (1.1115,0.239) (1.1123,0.259) (1.1130,0.236) (1.1137,0.266) (1.1145,0.249) (1.1152,0.274) (1.1160,0.254) (1.1167,0.269) (1.1175,0.244) (1.1182,0.271) (1.1189,0.241) (1.1198,0.271)};
% F0.0
\addplot[black, line width=0.9pt] coordinates {(0.9302,-0.180) (0.9307,-0.165) (0.9313,-0.185) (0.9321,-0.150) (0.9325,-0.143) (0.9332,-0.125) (0.9338,-0.133) (0.9344,-0.125) (0.9350,-0.145) (0.9356,-0.155) (0.9363,-0.145) (0.9369,-0.140) (0.9375,-0.145) (0.9381,-0.140) (0.9387,-0.157) (0.9395,-0.140) (0.9402,-0.145) (0.9407,-0.120) (0.9413,-0.165) (0.9418,-0.187) (0.9425,-0.177) (0.9431,-0.190) (0.9437,-0.175) (0.9443,-0.185) (0.9449,-0.177) (0.9455,-0.195) (0.9463,-0.177) (0.9472,-0.165) (0.9480,-0.170) (0.9488,-0.157) (0.9496,-0.150) (0.9505,-0.140) (0.9512,-0.145) (0.9521,-0.130) (0.9528,-0.115) (0.9535,-0.075) (0.9541,0.014) (0.9547,0.104) (0.9553,0.004) (0.9559,-0.100) (0.9567,-0.135) (0.9574,-0.140) (0.9580,-0.138) (0.9588,-0.125) (0.9595,-0.110) (0.9603,-0.120) (0.9610,-0.110) (0.9618,-0.108) (0.9624,-0.120) (0.9631,-0.135) (0.9639,-0.155) (0.9647,-0.130) (0.9655,-0.110) (0.9662,-0.125) (0.9670,-0.135) (0.9677,-0.115) (0.9684,-0.135) (0.9692,-0.120) (0.9699,-0.130) (0.9707,-0.113) (0.9714,-0.120) (0.9722,-0.128) (0.9729,-0.125) (0.9736,-0.120) (0.9744,-0.110) (0.9752,-0.108) (0.9760,-0.125) (0.9768,-0.115) (0.9775,-0.125) (0.9782,-0.120) (0.9790,-0.133) (0.9796,-0.100) (0.9803,-0.085) (0.9811,-0.085) (0.9818,-0.075) (0.9826,-0.065) (0.9833,-0.095) (0.9840,-0.075) (0.9848,-0.070) (0.9855,-0.080) (0.9863,-0.075) (0.9870,-0.083) (0.9877,-0.075) (0.9885,-0.080) (0.9892,-0.065) (0.9900,-0.055) (0.9907,-0.070) (0.9915,-0.040) (0.9922,-0.058) (0.9929,-0.035) (0.9937,-0.045) (0.9944,-0.070) (0.9952,-0.055) (0.9959,-0.050) (0.9967,-0.053) (0.9975,-0.065) (0.9983,-0.055) (0.9991,-0.045) (0.9999,-0.040) (1.0006,-0.040) (1.0014,-0.035) (1.0021,-0.035) (1.0028,-0.030) (1.0037,-0.010) (1.0043,0.064) (1.0051,0.156) (1.0057,0.064) (1.0063,-0.005) (1.0071,-0.020) (1.0078,-0.025) (1.0085,-0.018) (1.0093,-0.015) (1.0100,-0.025) (1.0109,-0.020) (1.0118,-0.015) (1.0125,-0.018) (1.0132,-0.028) (1.0140,-0.035) (1.0147,-0.045) (1.0155,-0.035) (1.0163,-0.030) (1.0172,-0.025) (1.0179,-0.030) (1.0189,-0.025) (1.0198,-0.030) (1.0207,-0.023) (1.0217,-0.025) (1.0226,-0.028) (1.0236,-0.020) (1.0246,-0.023) (1.0255,-0.020) (1.0264,-0.023) (1.0271,-0.025) (1.0278,-0.018) (1.0288,-0.010) (1.0298,-0.020) (1.0308,-0.015) (1.0319,-0.013) (1.0328,-0.055) (1.0334,-0.025) (1.0342,-0.030) (1.0350,-0.020) (1.0359,-0.013) (1.0366,-0.018) (1.0375,-0.030) (1.0382,-0.015) (1.0390,-0.005) (1.0396,-0.010) (1.0400,-0.023) (1.0406,-0.015) (1.0412,-0.005) (1.0421,-0.010) (1.0427,0.000) (1.0434,-0.010) (1.0443,-0.005) (1.0452,0.004) (1.0459,0.007) (1.0464,0.000) (1.0472,-0.005) (1.0480,0.000) (1.0489,0.004) (1.0495,0.002) (1.0502,0.009) (1.0511,0.012) (1.0519,0.014) (1.0526,0.017) (1.0536,-0.015) (1.0546,0.009) (1.0554,0.017) (1.0563,0.014) (1.0571,0.017) (1.0579,0.004) (1.0588,-0.015) (1.0595,0.014) (1.0604,0.000) (1.0613,0.009) (1.0623,0.002) (1.0631,0.009) (1.0640,0.014) (1.0647,0.019) (1.0656,0.000) (1.0663,-0.013) (1.0672,0.009) (1.0678,0.022) (1.0684,0.049) (1.0691,0.037) (1.0697,0.012) (1.0703,0.024) (1.0709,0.029) (1.0718,0.014) (1.0725,0.004) (1.0734,-0.005) (1.0743,0.004) (1.0751,0.014) (1.0759,0.019) (1.0766,0.009) (1.0774,-0.005) (1.0781,-0.025) (1.0790,0.004) (1.0798,0.019) (1.0806,0.009) (1.0814,-0.020) (1.0823,-0.045) (1.0830,-0.055) (1.0838,-0.025) (1.0845,0.004) (1.0852,0.017) (1.0860,0.019) (1.0870,-0.005) (1.0876,-0.030) (1.0882,-0.020) (1.0892,-0.005) (1.0901,0.004) (1.0910,0.019) (1.0918,0.027) (1.0924,-0.005) (1.0931,-0.045) (1.0936,0.014) (1.0941,0.094) (1.0947,0.039) (1.0954,-0.015) (1.0962,-0.075) (1.0969,-0.135) (1.0976,-0.095) (1.0983,-0.105) (1.0991,-0.070) (1.0998,-0.100) (1.1004,-0.115) (1.1011,-0.095) (1.1019,-0.090) (1.1028,-0.085) (1.1038,-0.080) (1.1048,-0.065) (1.1056,-0.055) (1.1063,-0.070) (1.1071,-0.045) (1.1078,-0.065) (1.1085,-0.045) (1.1093,-0.055) (1.1100,-0.040) (1.1108,-0.035) (1.1115,-0.050) (1.1123,-0.025) (1.1130,-0.045) (1.1137,-0.020) (1.1145,-0.035) (1.1152,-0.015) (1.1160,-0.030) (1.1167,-0.010) (1.1175,-0.035) (1.1182,-0.010) (1.1189,-0.065) (1.1198,-0.010)};
% feature labels
\node[lab] at (axis cs:0.9388,2.148) {CI};
\node[lab] at (axis cs:0.9436,2.198) {SiI};
\node[lab] at (axis cs:0.9556,2.148) {Pa$\epsilon$};
\node[lab] at (axis cs:0.9792,2.198) {TiI};
\node[lab] at (axis cs:0.9852,2.148) {TiO};
\node[lab] at (axis cs:0.9927,2.198) {FeH};
\node[lab] at (axis cs:1.0067,2.198) {Pa$\delta$};
\node[lab] at (axis cs:1.0398,2.248) {FeI};
\node[lab] at (axis cs:1.0392,2.198) {TiI};
\node[lab] at (axis cs:1.0441,2.148) {FeI};
\node[lab] at (axis cs:1.0482,2.198) {VO};
\node[lab] at (axis cs:1.0701,2.148) {SiI};
\node[lab] at (axis cs:1.0863,2.148) {CN};
\node[lab] at (axis cs:1.0925,2.198) {SrII};
\node[lab] at (axis cs:1.0976,2.148) {Pa$\gamma$};
% spectral type labels
\node[spt] at (axis cs:1.1194,2.010) {SpT= M\,7.3};
\node[spt] at (axis cs:1.1194,1.730) {SpT= M\,2.0};
\node[spt] at (axis cs:1.1194,1.450) {SpT= K\,6.7};
\node[spt] at (axis cs:1.1194,1.170) {SpT= K\,1.3};
\node[spt] at (axis cs:1.1194,0.890) {SpT= G\,6.0};
\node[spt] at (axis cs:1.1194,0.610) {SpT= G\,0.7};
\node[spt] at (axis cs:1.1194,0.330) {SpT= F\,5.3};
\node[spt] at (axis cs:1.1194,0.050) {SpT= F\,0.0};
\end{axis}
\node[anchor=base, text=axgray, font=\wideLM\fontsize{23}{25}\selectfont] at (269.15pt,861pt) {Supergiants};
\node[anchor=base, text=axgray, font=\wideLM\fontsize{18.5}{20}\selectfont] at (269.15pt,-46pt) {$\lambda[\mu$m$]$};
\node[rotate=90, anchor=center, text=axgray, font=\wideLM\fontsize{18.5}{20}\selectfont] at (-52pt,427pt) {Derivative + Constant};
\end{tikzpicture}
\end{document}
